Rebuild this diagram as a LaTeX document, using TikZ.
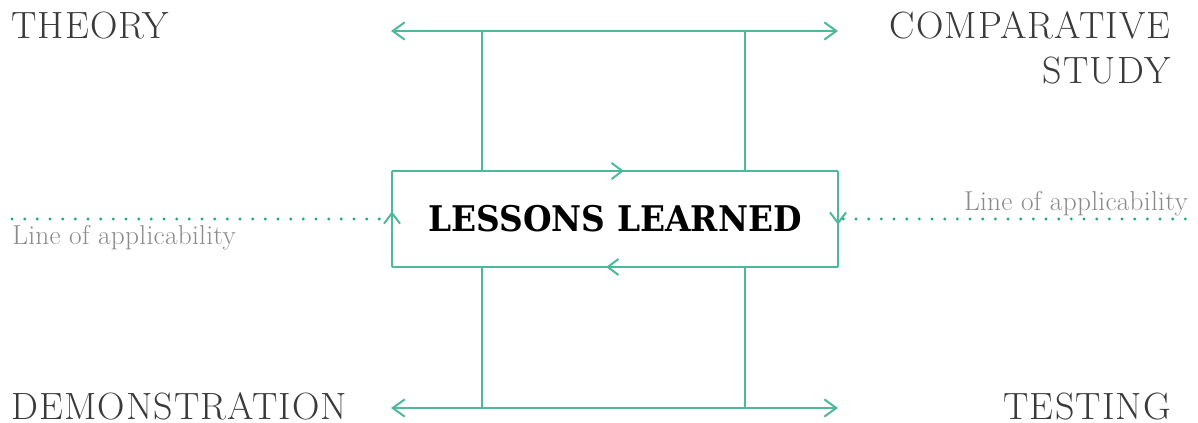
\documentclass[tikz,border=0pt]{standalone}
\usepackage{fontspec}
\newfontfamily\slabbold{DejaVu Serif}
\newfontfamily\titlefont{lmroman17-regular}[Extension=.otf, LetterSpace=3]
\newfontfamily\notefont{lmroman17-regular}[Extension=.otf, LetterSpace=1]
\usetikzlibrary{arrows.meta,decorations.markings,calc}

\definecolor{flowgreen}{HTML}{4DB89A}
\definecolor{dotgreen}{HTML}{1FA883}
\definecolor{titlegray}{HTML}{3A3A3A}
\definecolor{notegray}{HTML}{8A8A8A}

\tikzset{
    flow/.style={draw=flowgreen, line width=1.5pt},
    barb/.style={-{Straight Barb[length=9pt,width=13pt]}},
    midarrow/.style={decoration={markings,
        mark=at position #1 with {\arrow{Straight Barb[length=8pt,width=12pt]}}},
        postaction={decorate}},
    applic/.style={draw=dotgreen, line width=2.4pt, line cap=round,
        dash pattern=on 0pt off 9.5pt},
    title/.style={text=titlegray, inner sep=0pt, text depth=0pt,
        font=\titlefont\fontsize{28.5}{34}\selectfont},
    note/.style={text=notegray, inner sep=0pt,
        font=\notefont\fontsize{20.5}{24}\selectfont},
}

\begin{document}
\begin{tikzpicture}[x=0.75pt, y=-0.75pt]

    \useasboundingbox (0,0) rectangle (1198,423);

    % --- central box ---
    \node[minimum width=334.5pt, minimum height=72pt, inner sep=0pt, outer sep=0pt]
        (lessons) at (615,219)
        {\scalebox{0.93}[1]{\slabbold\bfseries\fontsize{26.5}{30}\selectfont LESSONS LEARNED}};

    % --- end points of the two spans ---
    \coordinate (topL) at (391,31);
    \coordinate (topR) at (838,31);
    \coordinate (botL) at (391,408);
    \coordinate (botR) at (838,408);
    \coordinate (legA) at (482,31);
    \coordinate (legB) at (745,31);

    % --- spans with arrows both ways ---
    \draw[flow, barb] (legA) -- (topL);
    \draw[flow, barb] (legA) -- (topR);
    \draw[flow, barb] (legA |- botL) -- (botL);
    \draw[flow, barb] (legA |- botL) -- (botR);

    % --- legs between spans and box ---
    \draw[flow] (legA) -- (legA |- lessons.north);
    \draw[flow] (legB) -- (legB |- lessons.north);
    \draw[flow] (legA |- lessons.south) -- (legA |- botL);
    \draw[flow] (legB |- lessons.south) -- (legB |- botL);

    % --- box border, running clockwise ---
    \draw[flow, midarrow=0.52] (lessons.north west) -- (lessons.north east);
    \draw[flow, midarrow=0.56] (lessons.north east) -- (lessons.south east);
    \draw[flow, midarrow=0.52] (lessons.south east) -- (lessons.south west);
    \draw[flow, midarrow=0.58] (lessons.south west) -- (lessons.north west);

    % --- line of applicability ---
    \coordinate (applicL) at (12,219);
    \coordinate (applicR) at (1188,219);
    \draw[applic] (applicL) -- ([xshift=-3pt]lessons.west);
    \draw[applic] ([xshift=4pt]lessons.east) -- (applicR);
    \node[note, anchor=base west] (noteL) at (12,245) {Line of applicability};
    \node[note, anchor=base east] (noteR) at (1188,211) {Line of applicability};

    % --- corner labels ---
    \node[title, anchor=base west] (theory) at (11,39) {THEORY};
    \node[title, anchor=base east, align=right] (comparative) at (1171,84) {COMPARATIVE\\STUDY};
    \node[title, anchor=base west] (demo) at (11,419) {DEMONSTRATION};
    \node[title, anchor=base east] (testing) at (1171,419) {TESTING};

\end{tikzpicture}
\end{document}
